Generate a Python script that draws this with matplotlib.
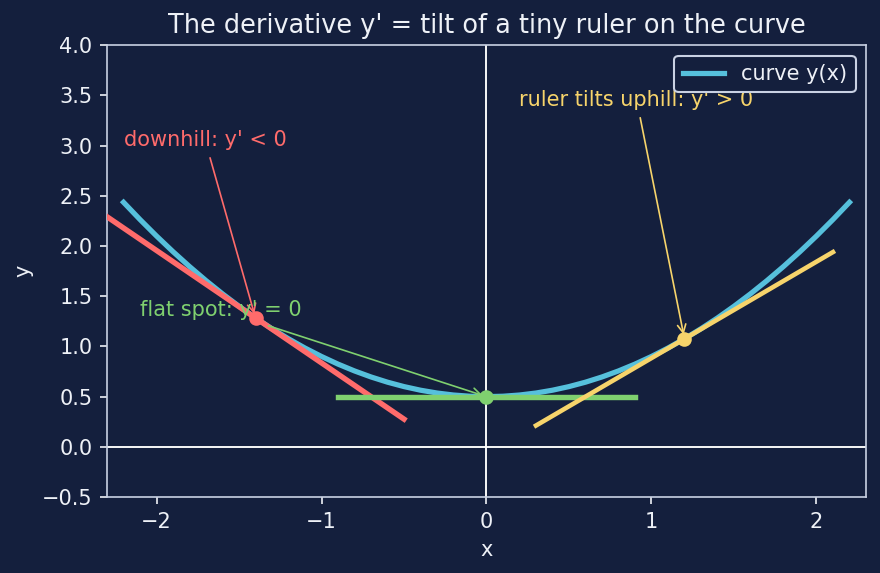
import matplotlib
matplotlib.use("Agg")
import matplotlib.pyplot as plt

# curve samples
curve_x = [-2.2, -2.1, -2.0, -1.9, -1.8, -1.7, -1.6, -1.5, -1.4, -1.3, -1.2, -1.1,
           -1.0, -0.9, -0.8, -0.7, -0.6, -0.5, -0.4, -0.3, -0.2, -0.1, 0.0,
           0.1, 0.2, 0.3, 0.4, 0.5, 0.6, 0.7, 0.8, 0.9, 1.0, 1.1,
           1.2, 1.3, 1.4, 1.5, 1.6, 1.7, 1.8, 1.9, 2.0, 2.1, 2.2]
curve_y = [2.436, 2.264, 2.1, 1.944, 1.796, 1.656, 1.524, 1.4, 1.284, 1.176, 1.076, 0.984,
           0.9, 0.824, 0.756, 0.696, 0.644, 0.6, 0.564, 0.536, 0.516, 0.504, 0.5,
           0.504, 0.516, 0.536, 0.564, 0.6, 0.644, 0.696, 0.756, 0.824, 0.9, 0.984,
           1.076, 1.176, 1.284, 1.4, 1.524, 1.656, 1.796, 1.944, 2.1, 2.264, 2.436]

# touch points of the rulers and their slopes
touch_x = [-1.4, 0.0, 1.2]
touch_y = [1.284, 0.5, 1.076]
slopes = [-1.12, 0.0, 0.96]
ruler_colors = ["#ff6b6b", "#7fd06f", "#f7d46b"]
ruler_widths = [2.6, 2.6, 2.2]

labels = ["downhill: y' < 0", "flat spot: y' = 0", "ruler tilts uphill: y' > 0"]
label_pos = [(-2.2, 3.0), (-2.1, 1.3), (0.2, 3.4)]

bg = "#141f3d"
fg = "#eef1f7"

fig, ax = plt.subplots(figsize=(5.867, 3.82), dpi=150)
fig.patch.set_facecolor(bg)
ax.set_facecolor(bg)

ax.axhline(0, color="white", lw=0.9, zorder=1)
ax.axvline(0, color="white", lw=0.9, zorder=1)

ax.plot(curve_x, curve_y, color="#56c0dc", lw=2.5, label="curve y(x)", zorder=2,
        solid_joinstyle="round")

half = 0.9
for x0, y0, m, c, w in zip(touch_x, touch_y, slopes, ruler_colors, ruler_widths):
    xs = [x0 - half, x0 + half]
    ys = [y0 - m * half, y0 + m * half]
    ax.plot(xs, ys, color=c, lw=w, zorder=3)
    ax.plot([x0], [y0], "o", color=c, ms=6, zorder=4)

for (tx, ty), x0, y0, c, s in zip(label_pos, touch_x, touch_y, ruler_colors, labels):
    ax.annotate(s, xy=(x0, y0), xytext=(tx, ty), color=c, fontsize=10,
                arrowprops=dict(arrowstyle="->", color=c, lw=0.8))

ax.set_xlim(-2.3, 2.3)
ax.set_ylim(-0.5, 4.0)
ax.set_xticks([-2, -1, 0, 1, 2])
ax.set_xlabel("x", color=fg)
ax.set_ylabel("y", color=fg)
ax.set_title("The derivative y' = tilt of a tiny ruler on the curve", color=fg, fontsize=12.3)
ax.tick_params(colors=fg)
for sp in ax.spines.values():
    sp.set_color("#c9d1e3")

leg = ax.legend(loc="upper right", facecolor=bg, edgecolor="#c9d1e3", labelcolor=fg)
leg.get_frame().set_alpha(1)

fig.subplots_adjust(left=0.1216, right=0.984, bottom=0.1326, top=0.921)
fig.savefig("out.png", dpi=150, facecolor=bg)
